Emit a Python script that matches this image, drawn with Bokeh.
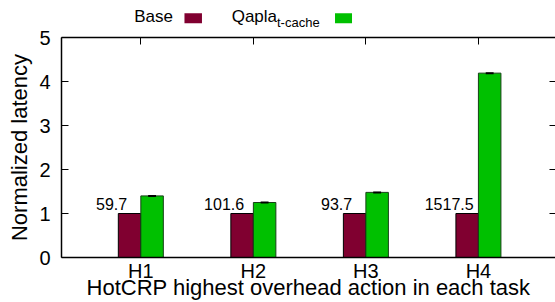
from bokeh.plotting import figure
from bokeh.layouts import column
from bokeh.models import Range1d, LinearAxis, FixedTicker, ColumnDataSource
from bokeh.core.properties import value
from bokeh.embed import file_html
from bokeh.resources import INLINE

# ---- data ----
categories = ["H1", "H2", "H3", "H4"]
base_values = [1.0, 1.0, 1.0, 1.0]
qapla_values = [1.40, 1.25, 1.48, 4.19]
base_labels = ["59.7", "101.6", "93.7", "1517.5"]
y_ticks = [0, 1, 2, 3, 4, 5]
legend_names = ["Base", "Qapla"]
legend_sub = "t-cache"
x_title = "HotCRP highest overhead action in each task"
y_title = "Normalized latency"

BASE_COLOR = "#800030"
QAPLA_COLOR = "#00c000"
FONT = "Liberation Sans"

pos = [i + 1 for i in range(len(categories))]
bw = 0.2
xr = Range1d(0.295, 4.685)

HEAD_H = 29
MAIN_H = 302 - HEAD_H

# ---------- legend strip (gnuplot style: label, then swatch) ----------
head = figure(width=555, height=HEAD_H, output_backend="svg", toolbar_location=None,
              x_range=xr, y_range=Range1d(HEAD_H, 0), min_border=0)
head.axis.visible = False
head.grid.visible = False
head.outline_line_color = None
head.text(x=[1.2856], y=[16.0], text=[legend_names[0]], text_align="right",
          text_baseline="middle", text_font=value(FONT), text_font_size="17px",
          text_color="black")
head.quad(left=[1.3878], right=[1.5433], top=[12.7], bottom=[22.7],
          fill_color=BASE_COLOR, line_color=None)
head.text(x=[1.8073], y=[16.0], text=[legend_names[1]], text_align="left",
          text_baseline="middle", text_font=value(FONT), text_font_size="17px",
          text_color="black")
head.text(x=[2.21], y=[22.0], text=[legend_sub], text_align="left",
          text_baseline="middle", text_font=value(FONT), text_font_size="13px",
          text_color="black")
head.quad(left=[2.7256], right=[2.8767], top=[12.7], bottom=[22.7],
          fill_color=QAPLA_COLOR, line_color=None)

# ---------- main chart ----------
p = figure(width=555, height=MAIN_H, output_backend="svg", toolbar_location=None,
           x_range=xr, y_range=Range1d(0, 5),
           min_border_left=61, min_border_right=0, min_border_top=8,
           min_border_bottom=44)
p.outline_line_color = None
p.grid.visible = False

src = ColumnDataSource(dict(
    xb=[x - bw / 2 for x in pos], xq=[x + bw / 2 for x in pos],
    base=base_values, qapla=qapla_values,
    lx=[x - 0.26 for x in pos], ly=[v + 0.226 for v in base_values],
    lab=base_labels,
    cx0=[x + bw / 2 - 0.035 for x in pos], cx1=[x + bw / 2 + 0.035 for x in pos],
))

p.vbar(x="xb", top="base", bottom=0, width=bw, source=src,
       fill_color=BASE_COLOR, line_color="black", line_width=1)
p.vbar(x="xq", top="qapla", bottom=0, width=bw, source=src,
       fill_color=QAPLA_COLOR, line_color="#164016", line_width=1)
p.segment(x0="cx0", y0="qapla", x1="cx1", y1="qapla", source=src,
          line_color="black", line_width=2)

p.text(x="lx", y="ly", text="lab", source=src, text_align="center",
       text_baseline="middle", text_font=value(FONT), text_font_size="16px",
       text_color="black")

xa = p.xaxis[0]
xa.ticker = FixedTicker(ticks=pos)
xa.major_label_overrides = {x: c for x, c in zip(pos, categories)}
xa.major_tick_in = 0
xa.major_tick_out = 0
xa.minor_tick_line_color = None
xa.major_label_standoff = 2
xa.major_label_text_font = FONT
xa.major_label_text_font_size = "20px"
xa.major_label_text_color = "black"
xa.axis_label = x_title
xa.axis_label_text_font = FONT
xa.axis_label_text_font_size = "22px"
xa.axis_label_text_font_style = "normal"
xa.axis_label_text_color = "black"
xa.axis_label_standoff = -10
xa.axis_line_color = "black"
xa.axis_line_width = 1.5

ya = p.yaxis[0]
ya.ticker = FixedTicker(ticks=y_ticks)
ya.major_tick_in = 7
ya.major_tick_out = 0
ya.minor_tick_line_color = None
ya.major_label_standoff = 11
ya.major_label_text_font = FONT
ya.major_label_text_font_size = "20px"
ya.major_label_text_color = "black"
ya.axis_label = y_title
ya.axis_label_text_font = FONT
ya.axis_label_text_font_size = "22px"
ya.axis_label_text_font_style = "normal"
ya.axis_label_text_color = "black"
ya.axis_label_standoff = 4
ya.axis_line_color = "black"
ya.axis_line_width = 1.5

top = LinearAxis(ticker=FixedTicker(ticks=pos), major_tick_in=7,
                 major_tick_out=0, minor_tick_line_color=None,
                 major_label_standoff=0,
                 major_label_overrides={t: "" for t in pos},
                 axis_line_color="black", axis_line_width=1.5)
p.add_layout(top, "above")

right = LinearAxis(ticker=FixedTicker(ticks=[1, 2, 3, 4]), major_tick_in=6,
                   major_tick_out=0, minor_tick_line_color=None,
                   major_label_standoff=0,
                   major_label_overrides={t: "" for t in [1, 2, 3, 4]},
                   axis_line_color=None)
p.add_layout(right, "right")

layout = column(head, p, spacing=0)
open("out.html", "w").write(file_html(layout, INLINE))
